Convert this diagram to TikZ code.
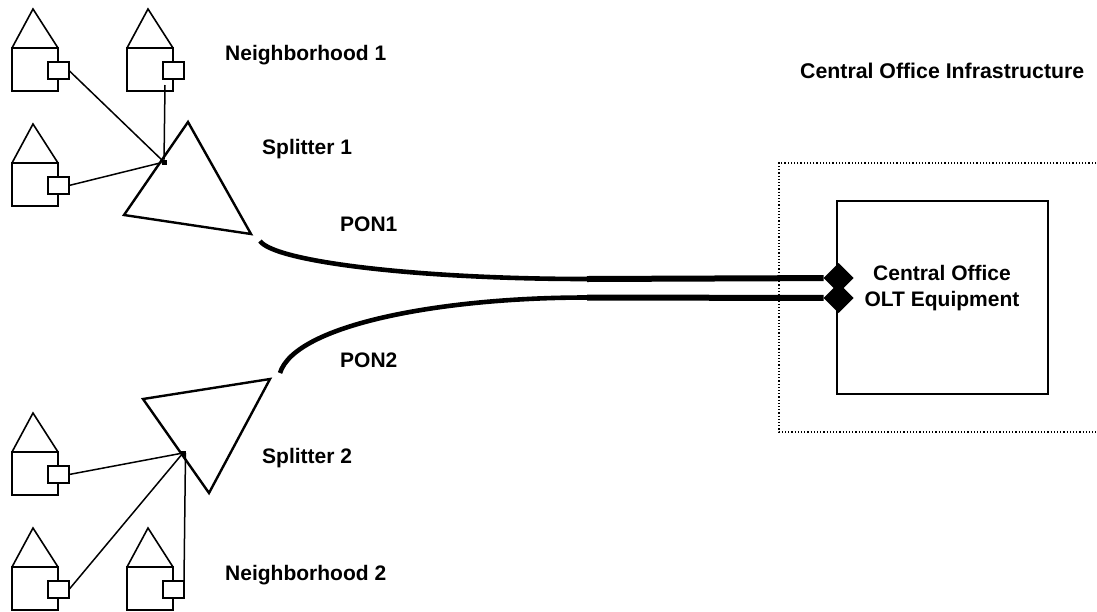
\documentclass[tikz,border=0pt]{standalone}
\usepackage{fontspec}
\setmainfont{Liberation Sans}
\usetikzlibrary{arrows,shapes}

\tikzset{
  housebody/.style={shape=rectangle,draw=black,line width=2pt,minimum width=46pt,minimum height=43pt,inner sep=0pt,outer sep=0pt},
  houseport/.style={shape=rectangle,draw=black,fill=white,line width=1.6pt,minimum width=21pt,minimum height=17pt,inner sep=0pt,outer sep=0pt},
  drop/.style={line width=1.5pt},
  splitter/.style={line width=2.4pt,line join=miter},
  junction/.style={shape=rectangle,fill=black,minimum size=5pt,inner sep=0pt,outer sep=0pt},
  cable/.style={line width=4.6pt},
  trunk/.style={line width=6pt},
  olt/.style={shape=diamond,fill=black,minimum size=30pt,inner sep=0pt,outer sep=0pt},
  label/.style={font=\fontsize{21}{26}\selectfont\bfseries,inner sep=0pt,anchor=west}
}
% house: name, left edge of the body, top of the body
\newcommand{\house}[3]{
  \node[housebody](#1)at(#2+23, #3+21.5){};
  \node[houseport](#1p)at(#2+46.5, #3+22.5){};
  \draw[line width=1.6pt](#1.north west) -- (#2+21, #3-39) -- (#1.north east);
}

\begin{document}
\begin{tikzpicture}[x=1pt,y=-1pt]
                \useasboundingbox (0, 0) rectangle (1097, 611);
                \house{h1}{12}{48}
                \house{h2}{127}{48}
                \house{h3}{12}{163}
                \house{h4}{12}{452}
                \house{h5}{12}{567}
                \house{h6}{127}{567}

                % splitters
                \coordinate(s1a)at(188, 122);
                \coordinate(s1b)at(124, 215);
                \coordinate(s1c)at(251, 234);
                \coordinate(s2a)at(143, 399);
                \coordinate(s2b)at(270, 379);
                \coordinate(s2c)at(209, 493);
                \draw[splitter](s1a) -- (s1b) -- (s1c) -- cycle;
                \draw[splitter](s2a) -- (s2b) -- (s2c) -- cycle;
                \node[junction](j1)at(164, 162){};
                \node[junction](j2)at(183, 453){};

                % drops
                \coordinate(d2)at(165, 85);
                \path[drop,draw]
                (h1p.east) -- (j1)
                (d2) -- (j1)
                (h3p.east) -- (j1)
                (h4p.east) -- (j2)
                (h5p.east) -- (j2)
                (j2.east) -- (h6p.north east);

                % central office
                \draw[line width=1.2pt,dotted](1096, 163) -- (779, 163) -- (779, 432) -- (1096, 432);
                \node[shape=rectangle,draw=black,line width=1.6pt,minimum width=211pt,minimum height=193pt,inner sep=0pt,outer sep=0pt](co)at(942.5, 297.5){};
                \node[olt](o1)at(838.5, 278){};
                \node[olt](o2)at(838.5, 298){};

                % fibres
                \coordinate(p1)at(260, 241);
                \coordinate(p2)at(280, 373);
                \coordinate(m1)at(587, 279);
                \coordinate(m2)at(587, 297.5);
                \draw[cable](p1) .. controls (275, 262) and (420, 279) .. (m1);
                \draw[cable](p2) .. controls (295, 325) and (440, 297.5) .. (m2);
                \draw[trunk](m1) -- (o1);
                \draw[trunk](m2) -- (o2);

                \node[label](n1)at(225, 55){Neighborhood 1};
                \node[label](n2)at(225, 575){Neighborhood 2};
                \node[label](sl1)at(262, 149){Splitter 1};
                \node[label](sl2)at(262, 458){Splitter 2};
                \node[label](pl1)at(340, 224){PON1};
                \node[label](pl2)at(340, 360){PON2};
                \node[label,font=\fontsize{21.3}{26}\selectfont\bfseries](ci)at(800, 71){Central Office Infrastructure};
                \node[label,anchor=center,align=center](ct)at(942, 288){Central Office\\OLT Equipment};
\end{tikzpicture}
\end{document}
